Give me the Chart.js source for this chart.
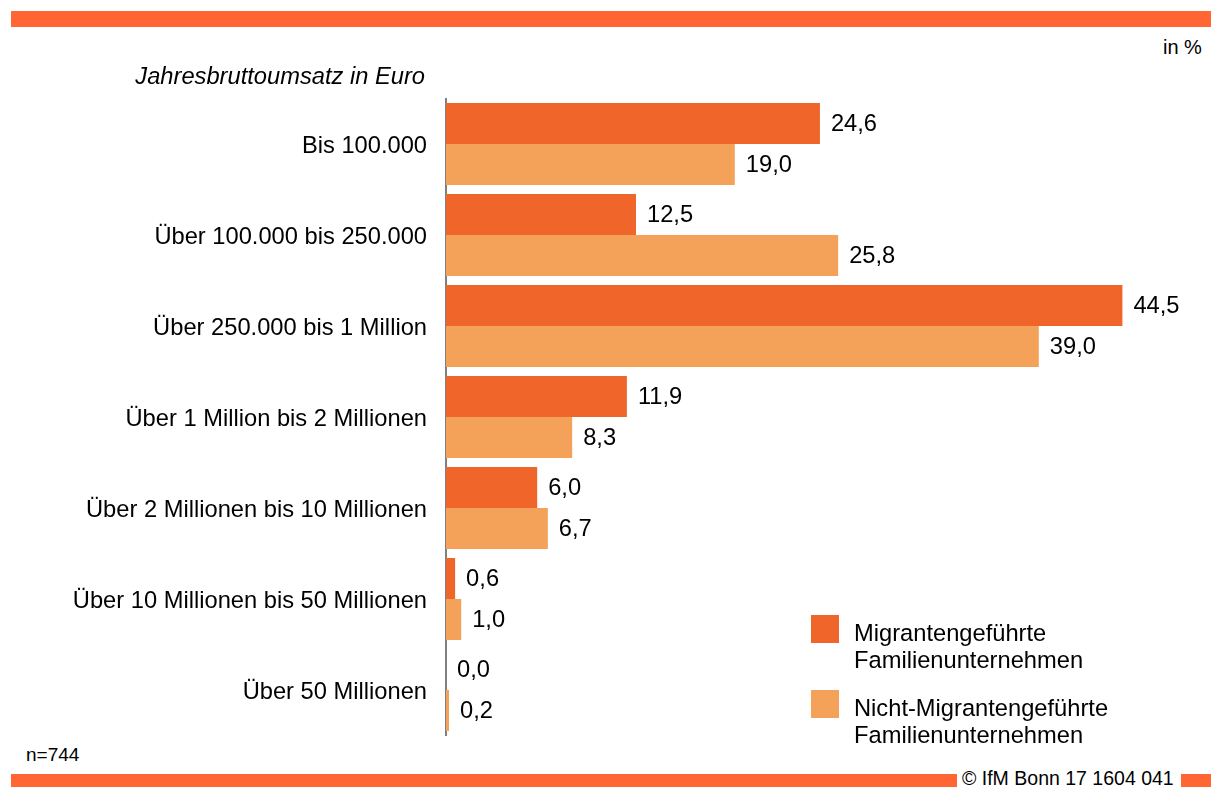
<!DOCTYPE html>
<html lang="de">
<head>
<meta charset="utf-8">
<title>Jahresbruttoumsatz</title>
<script src="https://cdn.jsdelivr.net/npm/chart.js@4"></script>
<style>
  html, body { margin: 0; padding: 0; background: #fff; }
  body { width: 1211px; height: 787px; position: relative; overflow: hidden; font-family: "Liberation Sans", Arial, sans-serif; color: #000; }
  #wrap { position: absolute; left: 0; top: 0; width: 1211px; height: 787px; }
  .band { position: absolute; background: #FF6633; }
  .txt { position: absolute; white-space: nowrap; line-height: 1; }
</style>
</head>
<body>
<div class="band" style="left:11px; top:11px; width:1200px; height:16px;"></div>
<div class="txt" style="left:1163px; top:37px; font-size:20px;">in %</div>
<div class="txt" style="left:26px; top:745px; font-size:19px;">n=744</div>
<div class="band" style="left:11px; top:774px; width:946px; height:13px;"></div>
<div class="txt" style="left:962px; top:769px; font-size:19.5px;">© IfM Bonn 17 1604 041</div>
<div class="band" style="left:1181px; top:774px; width:30px; height:13px;"></div>
<div id="wrap"><canvas id="umsatzChart" width="1211" height="787"></canvas></div>

<script>
// --- Data ---
const categories = [
    'Bis 100.000',
    'Über 100.000 bis 250.000',
    'Über 250.000 bis 1 Million',
    'Über 1 Million bis 2 Millionen',
    'Über 2 Millionen bis 10 Millionen',
    'Über 10 Millionen bis 50 Millionen',
    'Über 50 Millionen'
];
const migrantValues = [24.6, 12.5, 44.5, 11.9, 6.0, 0.6, 0.0];
const nonMigrantValues = [19.0, 25.8, 39.0, 8.3, 6.7, 1.0, 0.2];
const seriesLabels = [
    ['Migrantengeführte', 'Familienunternehmen'],
    ['Nicht-Migrantengeführte', 'Familienunternehmen']
];
const axisTitle = 'Jahresbruttoumsatz in Euro';

// --- Styles ---
const FONT = '"Liberation Sans", Arial, sans-serif';
const SIZE = 23.7;
const DARK = '#F06529';
const LIGHT = '#F4A25A';

const fmt = (v) => v.toFixed(1).replace('.', ',');

// value labels next to each bar
const valueLabels = {
    id: 'valueLabels',
    afterDatasetsDraw(chart) {
        const ctx = chart.ctx;
        ctx.save();
        ctx.font = SIZE + 'px ' + FONT;
        ctx.fillStyle = '#000';
        ctx.textAlign = 'left';
        ctx.textBaseline = 'middle';
        chart.data.datasets.forEach((ds, i) => {
            chart.getDatasetMeta(i).data.forEach((bar, j) => {
                ctx.fillText(fmt(ds.data[j]), bar.x + 11, bar.y + 1);
            });
        });
        ctx.restore();
    }
};

// axis title + two-line legend
const extras = {
    id: 'extras',
    afterDraw(chart) {
        const ctx = chart.ctx;
        ctx.save();
        ctx.fillStyle = '#000';
        ctx.font = 'italic ' + SIZE + 'px ' + FONT;
        ctx.textAlign = 'right';
        ctx.textBaseline = 'alphabetic';
        ctx.fillText(axisTitle, 425, 84);

        const boxes = [615, 690];
        chart.data.datasets.forEach((ds, i) => {
            const y = boxes[i];
            ctx.fillStyle = ds.backgroundColor;
            ctx.fillRect(811, y, 28, 28);
            ctx.fillStyle = '#000';
            ctx.font = SIZE + 'px ' + FONT;
            ctx.textAlign = 'left';
            seriesLabels[i].forEach((line, k) => {
                ctx.fillText(line, 854, y + 26 + k * 27);
            });
        });
        ctx.restore();
    }
};

const ctx = document.getElementById('umsatzChart').getContext('2d');
const umsatzChart = new Chart(ctx, {
    type: 'bar',
    data: {
        labels: categories,
        datasets: [
            { label: seriesLabels[0].join(' '), data: migrantValues, backgroundColor: DARK, borderWidth: 0 },
            { label: seriesLabels[1].join(' '), data: nonMigrantValues, backgroundColor: LIGHT, borderWidth: 0 }
        ]
    },
    options: {
        indexAxis: 'y',
        responsive: false,
        animation: false,
        categoryPercentage: 0.9,
        barPercentage: 1.0,
        layout: { padding: { left: 0, top: 98.5, bottom: 51.5, right: 81 } },
        scales: {
            x: { display: false, min: 0, max: 45 },
            y: {
                grid: { display: false, drawTicks: false },
                border: { display: true, color: '#808080', width: 2 },
                ticks: { color: '#000', font: { family: FONT, size: SIZE }, padding: 19, labelOffset: 2 },
                afterFit: (scale) => { scale.width = 446; }
            }
        },
        plugins: {
            legend: { display: false },
            tooltip: { enabled: false }
        }
    },
    plugins: [valueLabels, extras]
});
</script>
</body>
</html>
